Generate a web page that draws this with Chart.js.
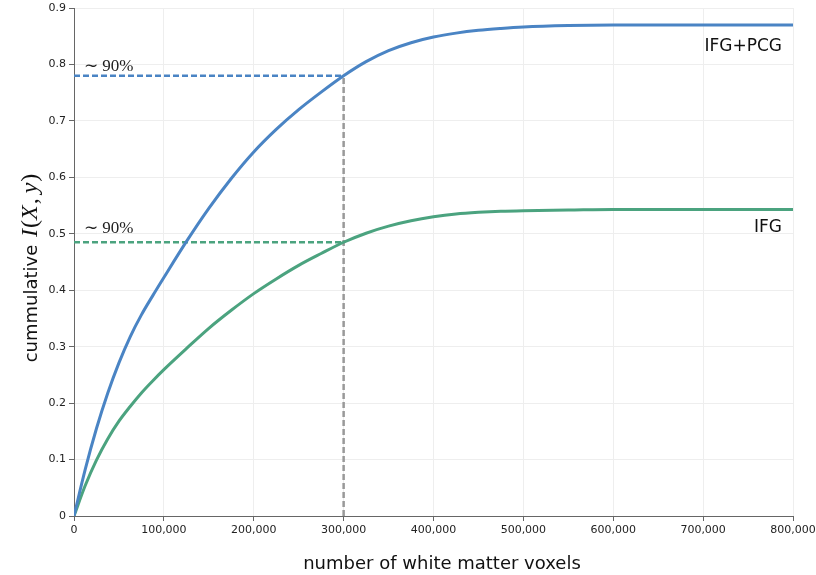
<!DOCTYPE html>
<html>
<head>
<meta charset="utf-8">
<script src="https://cdn.jsdelivr.net/npm/chart.js@4"></script>
<style>
  html, body { margin: 0; padding: 0; background: #fff; }
  #wrap { width: 816px; height: 575px; position: relative; }
</style>
</head>
<body>
<div id="wrap"><canvas id="c" width="816" height="575"></canvas></div>
<script>
// number of white matter voxels
const voxels = [0, 12500, 25000, 37500, 50000, 62500, 75000, 87500, 100000, 125000, 150000, 175000, 200000, 225000, 250000, 275000, 300000, 325000, 350000, 375000, 400000, 425000, 450000, 475000, 500000, 550000, 600000, 700000, 800000];
// cumulative I(X,y) for IFG+PCG
const ifgPcg = [0, 0.0825, 0.155, 0.2175, 0.2713, 0.3175, 0.3563, 0.39, 0.4225, 0.486, 0.545, 0.598, 0.645, 0.685, 0.72, 0.751, 0.78, 0.805, 0.8245, 0.8385, 0.8485, 0.8555, 0.8605, 0.8638, 0.8663, 0.8688, 0.8698, 0.87, 0.87];
// cumulative I(X,y) for IFG
const ifg = [0, 0.054, 0.099, 0.1365, 0.168, 0.194, 0.218, 0.2393, 0.2593, 0.2965, 0.3325, 0.3645, 0.394, 0.42, 0.444, 0.465, 0.485, 0.501, 0.5135, 0.523, 0.53, 0.535, 0.538, 0.54, 0.541, 0.542, 0.543, 0.543, 0.543];
// 90% markers
const cutoffX = 300000;
const ifgPcg90 = 0.78;
const ifg90 = 0.485;
const xTicks = [0, 100000, 200000, 300000, 400000, 500000, 600000, 700000, 800000];
const yTicks = [0, 0.1, 0.2, 0.3, 0.4, 0.5, 0.6, 0.7, 0.8, 0.9];
const seriesNames = ['IFG+PCG', 'IFG'];
const annotationText = '\u223C 90%';

const BLUE = '#4a84c4';
const GREEN = '#4ba37f';
const GRAY = '#999999';

const toPts = (xs, ys) => xs.map((x, i) => ({x: x, y: ys[i]}));

const labelPlugin = {
  id: 'labels',
  afterDraw(chart) {
    const ctx = chart.ctx;
    const xs = chart.scales.x, ys = chart.scales.y;
    const ca = chart.chartArea;
    ctx.save();
    // "~ 90%" annotations
    ctx.fillStyle = '#222';
    ctx.font = '17px "Liberation Serif", serif';
    ctx.textAlign = 'left';
    ctx.textBaseline = 'alphabetic';
    ctx.fillText(annotationText, xs.getPixelForValue(0) + 10, ys.getPixelForValue(ifgPcg90) - 5);
    ctx.fillText(annotationText, xs.getPixelForValue(0) + 10, ys.getPixelForValue(ifg90) - 9);
    // series labels
    ctx.font = '17px "DejaVu Sans", sans-serif';
    ctx.textAlign = 'right';
    ctx.fillStyle = '#111';
    ctx.fillText(seriesNames[0], ca.right - 11, ys.getPixelForValue(ifgPcg[ifgPcg.length - 1]) + 26);
    ctx.fillText(seriesNames[1], ca.right - 11, ys.getPixelForValue(ifg[ifg.length - 1]) + 22);
    // x title
    ctx.font = '18px "DejaVu Sans", sans-serif';
    ctx.textAlign = 'center';
    ctx.fillText('number of white matter voxels', 442, 569);
    // y title (mixed fonts), rotated
    const parts = [
      {t: 'cummulative ', f: '18px "DejaVu Sans", sans-serif', g: 2},
      {t: 'I', f: 'italic 24px "Liberation Serif", serif', g: 1},
      {t: '(', f: '24px "Liberation Serif", serif', g: 0},
      {t: 'X', f: 'italic 24px "Liberation Serif", serif', g: 1},
      {t: ',', f: '24px "Liberation Serif", serif', g: 5},
      {t: 'y', f: 'italic 24px "Liberation Serif", serif', g: 1},
      {t: ')', f: '24px "Liberation Serif", serif', g: 0}
    ];
    let total = 0;
    parts.forEach(p => { ctx.font = p.f; p.w = ctx.measureText(p.t).width + p.g; total += p.w; });
    ctx.translate(37, 268);
    ctx.rotate(-Math.PI / 2);
    ctx.textAlign = 'left';
    let cx = -total / 2;
    parts.forEach(p => { ctx.font = p.f; ctx.fillText(p.t, cx, 0); cx += p.w; });
    ctx.restore();
  }
};

new Chart(document.getElementById('c'), {
  type: 'line',
  data: {
    datasets: [
      {label: seriesNames[0], data: toPts(voxels, ifgPcg), borderColor: BLUE, borderWidth: 3, pointRadius: 0, cubicInterpolationMode: 'monotone', fill: false, order: 1},
      {label: seriesNames[1], data: toPts(voxels, ifg), borderColor: GREEN, borderWidth: 3, pointRadius: 0, cubicInterpolationMode: 'monotone', fill: false, order: 2},
      {label: 'blue90', data: [{x: 0, y: ifgPcg90}, {x: cutoffX, y: ifgPcg90}], borderColor: BLUE, borderWidth: 2.5, borderDash: [6, 3], pointRadius: 0, order: 3},
      {label: 'green90', data: [{x: 0, y: ifg90}, {x: cutoffX, y: ifg90}], borderColor: GREEN, borderWidth: 2.5, borderDash: [6, 3], pointRadius: 0, order: 4},
      {label: 'cut', data: [{x: cutoffX, y: 0}, {x: cutoffX, y: ifgPcg90}], borderColor: GRAY, borderWidth: 2.5, borderDash: [6, 3], pointRadius: 0, order: 5}
    ]
  },
  options: {
    responsive: false,
    animation: false,
    devicePixelRatio: 1,
    layout: {padding: {left: 0, right: 23, top: 8, bottom: 0}},
    plugins: {legend: {display: false}, tooltip: {enabled: false}},
    scales: {
      x: {
        type: 'linear', min: 0, max: 800000,
        afterFit: s => { s.height = 59; s.paddingRight = 0; s.paddingLeft = 0; },
        afterBuildTicks: s => { s.ticks = xTicks.map(v => ({value: v})); },
        ticks: {padding: 3, maxRotation: 0, color: '#222', font: {family: 'DejaVu Sans', size: 11},
                callback: v => v.toLocaleString('en-US')},
        grid: {color: '#eeeeee', lineWidth: 1, tickLength: 5, tickColor: '#666'},
        border: {color: '#666', width: 1}
      },
      y: {
        type: 'linear', min: 0, max: 0.9,
        afterFit: s => { s.width = 74; s.paddingTop = 0; s.paddingBottom = 0; },
        afterBuildTicks: s => { s.ticks = yTicks.map(v => ({value: v})); },
        ticks: {padding: 3, color: '#222', font: {family: 'DejaVu Sans', size: 11},
                callback: v => v === 0 ? '0' : v.toFixed(1)},
        grid: {color: '#eeeeee', lineWidth: 1, tickLength: 5, tickColor: '#666'},
        border: {color: '#666', width: 1}
      }
    }
  },
  plugins: [labelPlugin]
});
</script>
</body>
</html>
